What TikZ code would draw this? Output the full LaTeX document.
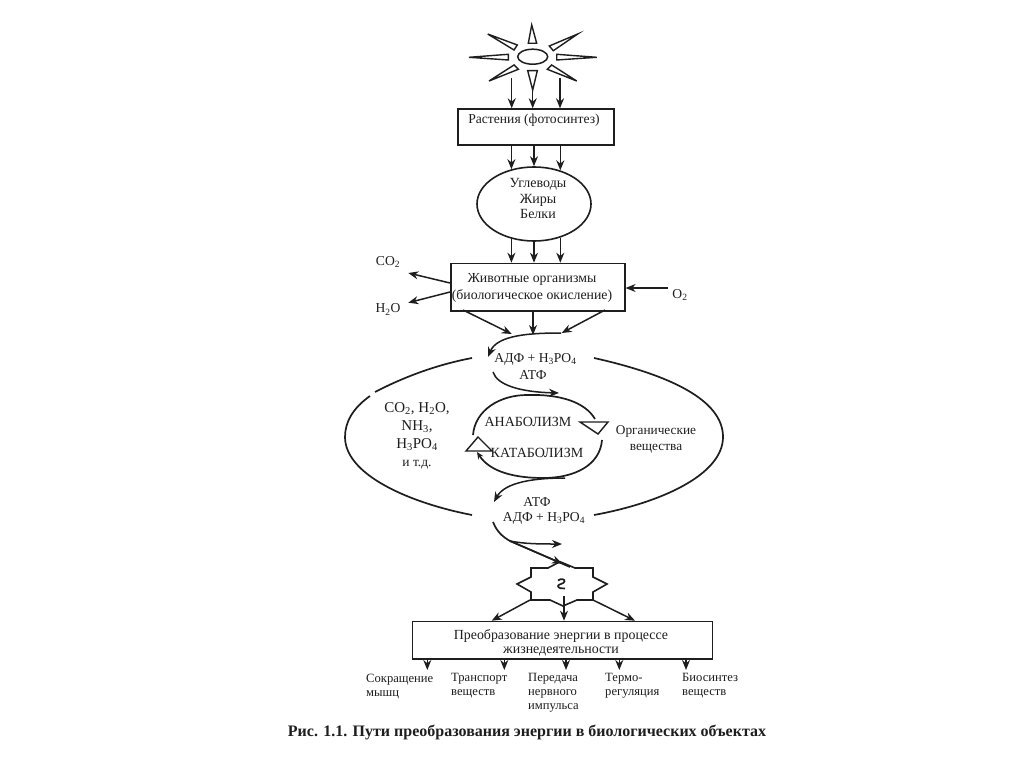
\documentclass[tikz,border=0pt]{standalone}
\usepackage{fontspec}
\setmainfont{Liberation Serif}
\usetikzlibrary{arrows.meta,shapes.geometric}
\newcommand{\subs}[1]{\textsubscript{#1}}
\definecolor{ink}{HTML}{1E1E1E}
\tikzset{
  line/.style={draw=ink,line width=1.5pt},
  arr/.style={line,-{Stealth[length=10pt,width=8pt]}},
  fl/.style={line,line width=1.7pt},
  ray/.style={draw=ink,line width=1.4pt,line join=miter},
  boxn/.style={draw=ink,line width=1.6pt,inner sep=0pt,anchor=north west},
  lab/.style={text=ink,font=\fontsize{13.6}{13}\selectfont,inner sep=0pt,align=center},
  lft/.style={text=ink,font=\fontsize{12.6}{14}\selectfont,inner sep=0pt,align=left,anchor=north west},
  mid/.style={text=ink,font=\fontsize{15}{18}\selectfont,inner sep=0pt,align=center}
}
\begin{document}
\begin{tikzpicture}[x=1pt,y=-1pt]
\useasboundingbox[fill=white] (0,0) rectangle (1024,767);
% sun
\node[draw=ink,line width=1.5pt,ellipse,minimum width=30pt,minimum height=15pt,inner sep=0pt] (sun) at (532.7,56.7) {};
\draw[ray] (531.7,25) -- (528.3,43.3) -- (536.7,43.3) -- cycle;
\draw[ray] (487.7,34) -- (517.3,45) -- (514,50) -- cycle;
\draw[ray] (577.7,34) -- (549.3,46) -- (553.3,50.7) -- cycle;
\draw[ray] (469,57.3) -- (508.3,54.3) -- (508.3,60) -- cycle;
\draw[ray] (596.7,57.3) -- (556.7,54.3) -- (556.7,60) -- cycle;
\draw[ray] (489,81) -- (514,65) -- (518.3,69.3) -- cycle;
\draw[ray] (576.7,81) -- (547.3,69.3) -- (551.7,65) -- cycle;
\draw[ray] (532.7,90) -- (527.7,70.7) -- (537.3,70.7) -- cycle;
% plants
\node[boxn,minimum width=156pt,minimum height=35.7pt] (plants) at (457.3,108.3) {};
\node[lab] (plantsT) at (534,120) {Растения (фотосинтез)};
\coordinate (s1) at (511.7,78);
\coordinate (s2) at (532.7,88);
\coordinate (s3) at (560,78);
\draw[arr] (s1) -- (s1 |- plants.north);
\draw[arr] (s2) -- (s2 |- plants.north);
\draw[arr] (s3) -- (s3 |- plants.north);
% carbs
\node[draw=ink,line width=1.6pt,ellipse,minimum width=114pt,minimum height=74pt,inner sep=0pt] (carb) at (534,204) {};
\node[lab,font=\fontsize{14}{15.5}\selectfont] (carbT) at (538,198.5) {Углеводы\\Жиры\\Белки};
\draw[arr] (plants.south -| carb.123) -- (carb.123);
\draw[arr] (plants.south -| carb.90) -- (carb.90);
\draw[arr] (plants.south -| carb.52) -- (carb.52);
% animals
\node[boxn,minimum width=174pt,minimum height=47.3pt] (anim) at (450,262.7) {};
\node[lab,font=\fontsize{13.8}{17}\selectfont] (animT) at (532,287.5) {Животные организмы\\(биологическое окисление)};
\draw[arr] (carb.-123) -- (carb.-123 |- anim.north);
\draw[arr] (carb.-90) -- (carb.-90 |- anim.north);
\draw[arr] (carb.-52) -- (carb.-52 |- anim.north);
\node[lab] (co2a) at (388,262) {CO\subs{2}};
\node[lab] (h2oa) at (388,309.5) {H\subs{2}O};
\node[lab] (o2a) at (680,295) {O\subs{2}};
\coordinate (co2e) at (408.3,273);
\coordinate (h2oe) at (408.3,302.7);
\coordinate (o2s) at (668,288);
\draw[arr] (450,283) -- (co2e);
\draw[arr] (450,292) -- (h2oe);
\draw[arr] (o2s) -- (o2s -| anim.east);
\coordinate (d1) at (463,310);
\coordinate (d2) at (533,310);
\coordinate (d3) at (605,310);
\coordinate (t1) at (511.7,334);
\coordinate (t2) at (533,335);
\coordinate (t3) at (561.7,333);
\draw[arr] (d1) -- (t1);
\draw[arr] (d2) -- (t2);
\draw[arr] (d3) -- (t3);
% upper ATP
\coordinate (u0) at (561,333);
\coordinate (u1) at (488,357);
\draw[arr] (u0) .. controls (530,333) and (497,335) .. (u1);
\node[lab] (adp1) at (535.5,359) {АДФ + H\subs{3}PO\subs{4}};
\node[lab] (atp1) at (533,375) {АТФ};
\coordinate (v0) at (493,372);
\coordinate (v1) at (559,393);
\draw[arr] (v0) .. controls (497,385) and (520,392) .. (v1);
% big ring
\coordinate (ltop) at (472,358);
\coordinate (lgap) at (375,392);
\coordinate (lgap2) at (370,396);
\coordinate (lbot) at (472,515);
\coordinate (rtop) at (594,358);
\coordinate (rbot) at (594,515);
\draw[fl] (ltop) .. controls (435,365) and (402,378) .. (lgap);
\draw[fl] (lgap2) .. controls (353,408) and (345,422) .. (345,437) .. controls (345,475) and (410,503) .. (lbot);
\draw[fl] (rtop) .. controls (670,375) and (723,400) .. (723,437) .. controls (723,475) and (660,503) .. (rbot);
\node[mid] (sub) at (417,435.5) {CO\subs{2}, H\subs{2}O,\\NH\subs{3},\\H\subs{3}PO\subs{4}\\[0pt]{\fontsize{13.5}{12}\selectfont и т.д.}};
% inner cycle
\coordinate (a0) at (473,435);
\coordinate (a1) at (595,419);
\coordinate (k0) at (602,440);
\coordinate (k1) at (477,452);
\draw[fl] (a0) .. controls (475,410) and (500,395) .. (527,395) .. controls (560,394) and (585,402) .. (a1);
\draw[line,line width=1.7pt,-{Stealth[length=7pt,width=6pt]}] (k0) .. controls (600,465) and (575,478) .. (543,478) .. controls (515,478) and (490,472) .. (k1);
\draw[ray] (580,422) -- (608,422) -- (598,434) -- cycle;
\draw[ray] (466,451) -- (492,451) -- (478,437) -- cycle;
\node[lab,font=\fontsize{14}{12}\selectfont] (ana) at (528,422) {АНАБОЛИЗМ};
\node[lab,font=\fontsize{14}{12}\selectfont] (kat) at (537,453) {КАТАБОЛИЗМ};
\node[lab,font=\fontsize{13.3}{16.5}\selectfont] (org) at (656,439.5) {Органические\\вещества};
% lower ATP
\coordinate (w0) at (565,478);
\coordinate (w1) at (494,502);
\draw[arr] (w0) .. controls (535,478) and (505,482) .. (w1);
\node[lab] (atp2) at (537,502) {АТФ};
\node[lab] (adp2) at (544,518.5) {АДФ + H\subs{3}PO\subs{4}};
\coordinate (x0) at (493,522);
\coordinate (xm) at (510,541);
\coordinate (x1) at (562,563.5);
\coordinate (x2) at (562,544);
\coordinate (x3) at (570,567);
\draw[fl] (x0) .. controls (497,532) and (503,537) .. (xm) -- (x3);
\draw[arr] (xm) -- (x1);
\draw[arr] (xm) .. controls (525,544) and (540,544) .. (x2);
% star
\draw[draw=ink,line width=1.6pt,line join=miter] (548,568) -- (560,561.7) -- (575,568) -- (593,568) -- (593,577) -- (607,584) -- (593,592) -- (593,600) -- (577,600) -- (563,606) -- (550,600) -- (531,600) -- (531,592) -- (517,584) -- (531,577) -- (531,568) -- cycle;
\draw[draw=ink,line width=1.7pt] (558,580.5) .. controls (561,578) and (565,579) .. (564.5,581.5) .. controls (564,584) and (558,584) .. (558,586) .. controls (558,588) and (562,589) .. (565,588.5);
% energy
\node[boxn,minimum width=300pt,minimum height=37.3pt] (en) at (411.7,620.7) {};
\node[lab,font=\fontsize{13.9}{14.5}\selectfont] (enT) at (561,643) {Преобразование энергии в процессе\\жизнедеятельности};
\coordinate (e1) at (530,600);
\coordinate (e2) at (564,596);
\coordinate (e3) at (593,600);
\coordinate (ee1) at (491.7,620.7);
\coordinate (ee3) at (635,620.7);
\draw[arr] (e1) -- (ee1);
\draw[arr] (e2) -- (e2 |- en.north);
\draw[arr] (e3) -- (ee3);
% outputs
\coordinate (o1) at (427.3,670);
\coordinate (o2) at (504.3,670);
\coordinate (o3) at (566,670);
\coordinate (o4) at (619.3,670);
\coordinate (o5) at (686,670);
\foreach \p in {o1,o2,o3,o4,o5} \draw[arr] (\p |- en.south) -- (\p);
\node[lft] (l1) at (366,673.5) {Сокращение\\мышц};
\node[lft] (l2) at (451,673.5) {Транспорт\\веществ};
\node[lft] (l3) at (528,673.5) {Передача\\нервного\\импульса};
\node[lft] (l4) at (605,673.5) {Термо-\\регуляция};
\node[lft] (l5) at (682,673.5) {Биосинтез\\веществ};
\node[text=ink,font=\bfseries\fontsize{16}{16}\selectfont,inner sep=0pt] (cap) at (527,732) {Рис. 1.1. Пути преобразования энергии в биологических объектах};
\end{tikzpicture}
\end{document}
